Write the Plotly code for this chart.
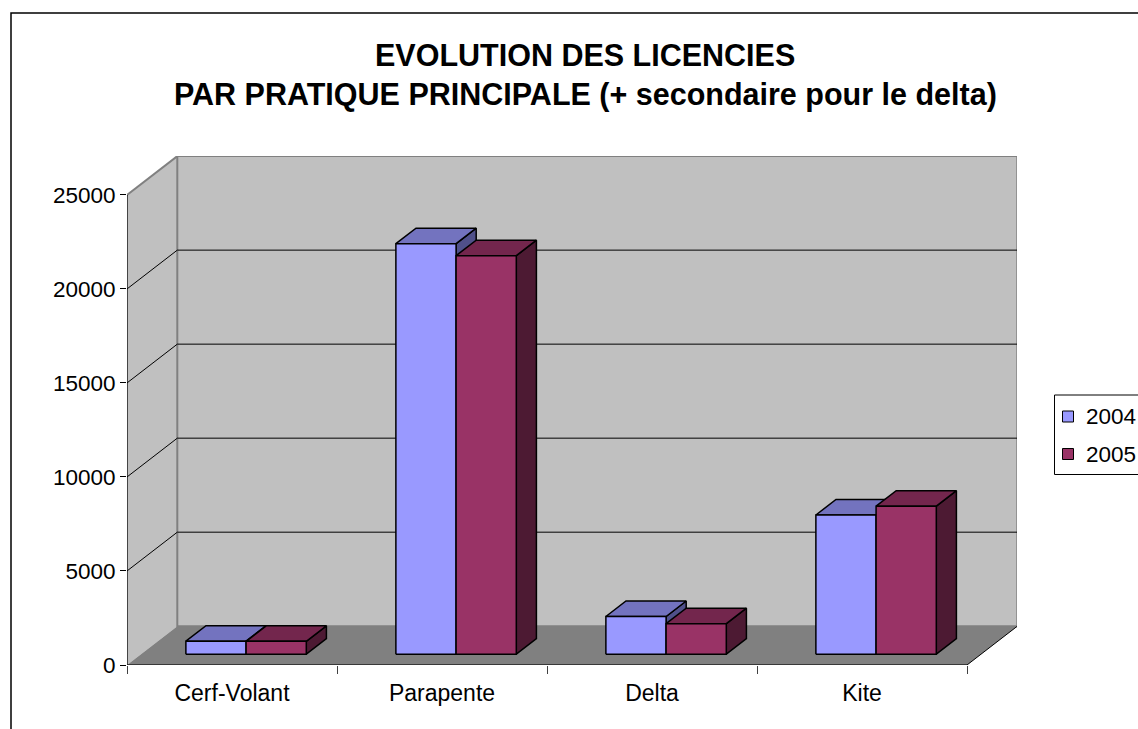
import plotly.graph_objects as go

# ---------------- data ----------------
categories = ["Cerf-Volant", "Parapente", "Delta", "Kite"]
series_names = ["2004", "2005"]
values_2004 = [690, 21830, 2000, 7400]
values_2005 = [680, 21190, 1620, 7870]
y_tick_values = [0, 5000, 10000, 15000, 20000, 25000]
y_tick_labels = ["0", "5000", "10000", "15000", "20000", "25000"]
title_lines = ["EVOLUTION DES LICENCIES",
               "PAR PRATIQUE PRINCIPALE (+ secondaire pour le delta)"]

# ---------------- styling / geometry ----------------
FONT = "Liberation Sans, Arial, sans-serif"
front_col = {"2004": "#9999ff", "2005": "#993366"}
top_col = {"2004": "#7373bf", "2005": "#73264d"}
side_col = {"2004": "#50508a", "2005": "#4d1a33"}

OFF = 0                      # page body margin removed via post_script
W, H = 1138 - OFF, 729 - OFF
L, T = 127 - OFF, 156 - OFF
R = W - (1017 - OFF)
B = H - (665 - OFF)
PW, PH = W - L - R, H - T - B
CAT_PX = 210.0
XMIN = -0.5
XMAX = XMIN + PW / CAT_PX
YMAX = 27070
PX_PER_Y = PH / YMAX
DX = 50.3 / CAT_PX          # floor depth (x units)
DY = 38.8 / PX_PER_Y        # floor depth (value units)
BAR_W = 0.2867
F0, FD = 0.28, 0.40         # bar front offset and depth fractions
XEND = XMIN + len(categories)


def px_x(px):
    return (px - OFF - L) / PW


def px_y(py):
    return (H - B - (py - OFF)) / PH


fig = go.Figure()
shapes = []

# walls and floor
shapes.append(dict(type="path", layer="below", xref="x", yref="y",
                   path=f"M{XMIN},0 L{XMIN},{y_tick_values[-1]} L{XMIN+DX},{y_tick_values[-1]+DY} L{XMIN+DX},{DY} Z",
                   fillcolor="#c0c0c0", line=dict(width=0)))
shapes.append(dict(type="rect", layer="below", xref="x", yref="y",
                   x0=XMIN + DX, x1=XEND + DX, y0=DY, y1=y_tick_values[-1] + DY,
                   fillcolor="#c0c0c0", line=dict(color="#808080", width=2)))
shapes.append(dict(type="path", layer="below", xref="x", yref="y",
                   path=f"M{XMIN},0 L{XEND},0 L{XEND+DX},{DY} L{XMIN+DX},{DY} Z",
                   fillcolor="#808080", line=dict(width=0)))
# left wall top edge
shapes.append(dict(type="line", layer="below", xref="x", yref="y",
                   x0=XMIN, y0=y_tick_values[-1], x1=XMIN + DX, y1=y_tick_values[-1] + DY,
                   line=dict(color="#808080", width=2)))
# gridlines
for v in y_tick_values[1:-1]:
    shapes.append(dict(type="line", layer="below", xref="x", yref="y",
                       x0=XMIN + DX, y0=v + DY, x1=XEND + DX, y1=v + DY,
                       line=dict(color="black", width=1)))
    shapes.append(dict(type="line", layer="below", xref="x", yref="y",
                       x0=XMIN, y0=v, x1=XMIN + DX, y1=v + DY,
                       line=dict(color="black", width=1)))
# axis lines
shapes.append(dict(type="line", layer="below", xref="x", yref="y",
                   x0=XMIN, y0=0, x1=XMIN, y1=y_tick_values[-1],
                   line=dict(color="black", width=1.3)))
shapes.append(dict(type="line", layer="below", xref="x", yref="y",
                   x0=XMIN, y0=0, x1=XEND, y1=0,
                   line=dict(color="#202020", width=1.5)))
shapes.append(dict(type="line", layer="below", xref="x", yref="y",
                   x0=XEND, y0=0, x1=XEND + DX, y1=DY,
                   line=dict(color="black", width=1)))

# ---------------- bars (front, top, side faces) ----------------
all_vals = {"2004": values_2004, "2005": values_2005}
bdx, bdy = FD * DX, FD * DY
base = F0 * DY
for k, name in enumerate(series_names):
    sx, sy, tx, ty, fx, fy = [], [], [], [], [], []
    for i, v in enumerate(all_vals[name]):
        x0 = i + F0 * DX - BAR_W + k * BAR_W
        x1 = x0 + BAR_W
        y0, y1 = base, base + v
        sx += [x1, x1 + bdx, x1 + bdx, x1, x1, None]
        sy += [y0, y0 + bdy, y1 + bdy, y1, y0, None]
        tx += [x0, x1, x1 + bdx, x0 + bdx, x0, None]
        ty += [y1, y1, y1 + bdy, y1 + bdy, y1, None]
        fx += [x0, x1, x1, x0, x0, None]
        fy += [y0, y0, y1, y1, y0, None]
    for xs, ys, col in ((sx, sy, side_col[name]), (tx, ty, top_col[name]),
                        (fx, fy, front_col[name])):
        fig.add_trace(go.Scatter(x=xs, y=ys, mode="lines", fill="toself",
                                 fillcolor=col, line=dict(color="black", width=1.5),
                                 showlegend=False, hoverinfo="skip", name=name))

# invisible trace for boundary tick axis
fig.add_trace(go.Scatter(x=[XMIN], y=[0], xaxis="x2", mode="markers",
                         marker=dict(opacity=0), showlegend=False, hoverinfo="skip"))

# ---------------- outer border & legend ----------------
shapes.append(dict(type="rect", xref="paper", yref="paper",
                   x0=px_x(11), x1=px_x(1180), y0=px_y(13), y1=px_y(780),
                   line=dict(color="black", width=1.5), fillcolor="rgba(0,0,0,0)"))
shapes.append(dict(type="rect", xref="paper", yref="paper",
                   x0=px_x(1054.5), x1=px_x(1160), y0=px_y(395), y1=px_y(474.5),
                   line=dict(color="black", width=1), fillcolor="white"))
annotations = []
for j, name in enumerate(series_names):
    cy = 416.5 + j * 37.5
    shapes.append(dict(type="rect", xref="paper", yref="paper",
                       x0=px_x(1062.5), x1=px_x(1073.5), y0=px_y(cy - 5.5), y1=px_y(cy + 5.5),
                       fillcolor=front_col[name], line=dict(color="black", width=1)))
    annotations.append(dict(xref="paper", yref="paper", x=px_x(1084), y=px_y(cy),
                            xanchor="left", yanchor="middle", showarrow=False, text=name,
                            font=dict(family=FONT, size=22.5, color="black")))

for j, line in enumerate(title_lines):
    annotations.append(dict(xref="paper", yref="paper", x=px_x(585), y=px_y(55 + 40 * j),
                            xanchor="center", yanchor="middle", showarrow=False,
                            text=f"<b>{line}</b>",
                            font=dict(family=FONT, size=30.5, color="black")))

fig.update_layout(
    width=W, height=H, autosize=False,
    margin=dict(l=L, r=R, t=T, b=B, pad=0),
    paper_bgcolor="white", plot_bgcolor="white",
    showlegend=False,
    shapes=shapes, annotations=annotations,
    xaxis=dict(range=[XMIN, XMAX], tickvals=list(range(len(categories))),
               ticktext=categories, ticks="outside", ticklen=7,
               tickcolor="rgba(0,0,0,0)", showgrid=False, zeroline=False,
               showline=False, tickfont=dict(family=FONT, size=23, color="black")),
    xaxis2=dict(range=[XMIN, XMAX], overlaying="x", anchor="y", side="bottom",
                tickvals=[XMIN + i for i in range(len(categories) + 1)],
                ticks="outside", ticklen=8, tickcolor="#404040", tickwidth=1,
                showticklabels=False, showgrid=False, zeroline=False, showline=False),
    yaxis=dict(range=[0, YMAX], tickvals=y_tick_values, ticktext=y_tick_labels,
               ticks="outside", ticklen=6,
               tickcolor="black", showgrid=False, zeroline=False, showline=False,
               tickfont=dict(family=FONT, size=22.5, color="black")),
)

fig.write_html("out.html", config={"displayModeBar": False},
               post_script="document.body.style.margin='0';document.body.style.overflow='hidden';")
